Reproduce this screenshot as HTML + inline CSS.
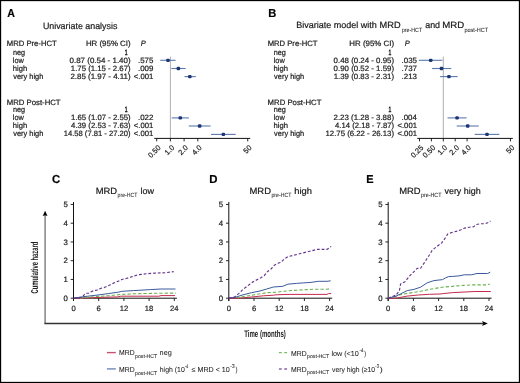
<!DOCTYPE html>
<html><head><meta charset="utf-8"><style>
html,body{margin:0;padding:0;background:#fff;overflow:hidden;}
svg{display:block;filter:blur(0.3px);font-family:"Liberation Sans", sans-serif;text-rendering:geometricPrecision;}
text{stroke:#1a1a1a;stroke-width:0.2px;}
</style></head><body>
<svg width="520" height="383" viewBox="0 0 520 383">
<rect width="520" height="383" fill="#fff"/>
<rect x="0.5" y="0.5" width="519" height="382" fill="none" stroke="#000" stroke-width="1.3"/>
<text x="7.29" y="16.50" font-size="11.5" font-weight="bold" fill="#000" textLength="7.65" lengthAdjust="spacingAndGlyphs">A</text>
<text x="268.23" y="16.50" font-size="11.5" font-weight="bold" fill="#000" textLength="8.05" lengthAdjust="spacingAndGlyphs">B</text>
<text x="52.10" y="183.20" font-size="11.5" font-weight="bold" fill="#000" textLength="8.16" lengthAdjust="spacingAndGlyphs">C</text>
<text x="209.21" y="183.00" font-size="11.5" font-weight="bold" fill="#000" textLength="8.22" lengthAdjust="spacingAndGlyphs">D</text>
<text x="366.34" y="183.00" font-size="11.5" font-weight="bold" fill="#000" textLength="7.32" lengthAdjust="spacingAndGlyphs">E</text>
<text x="42.88" y="28.90" font-size="9.0" fill="#1a1a1a" textLength="74.46" lengthAdjust="spacingAndGlyphs">Univariate analysis</text>
<text x="296.23" y="27.60" font-size="9.0" fill="#1a1a1a" textLength="80.64" lengthAdjust="spacingAndGlyphs">Bivariate model with</text>
<text x="379.61" y="27.60" font-size="9.0" fill="#1a1a1a" textLength="20.97" lengthAdjust="spacingAndGlyphs">MRD</text>
<text x="401.91" y="31.60" font-size="6.0" fill="#1a1a1a" textLength="20.24" lengthAdjust="spacingAndGlyphs" style="stroke-width:0.05px">pre-HCT</text>
<text x="425.19" y="27.60" font-size="9.0" fill="#1a1a1a" textLength="14.87" lengthAdjust="spacingAndGlyphs">and</text>
<text x="442.18" y="27.60" font-size="9.0" fill="#1a1a1a" textLength="21.93" lengthAdjust="spacingAndGlyphs">MRD</text>
<text x="464.49" y="31.60" font-size="6.0" fill="#1a1a1a" textLength="23.56" lengthAdjust="spacingAndGlyphs" style="stroke-width:0.05px">post-HCT</text>
<text x="6.84" y="46.40" font-size="7.7" fill="#1a1a1a" textLength="49.87" lengthAdjust="spacingAndGlyphs">MRD Pre-HCT</text>
<text x="6.83" y="104.50" font-size="7.7" fill="#1a1a1a" textLength="53.77" lengthAdjust="spacingAndGlyphs">MRD Post-HCT</text>
<text x="12.88" y="54.50" font-size="7.7" fill="#1a1a1a" textLength="12.17" lengthAdjust="spacingAndGlyphs">neg</text>
<text x="12.87" y="62.50" font-size="7.7" fill="#1a1a1a" textLength="11.05" lengthAdjust="spacingAndGlyphs">low</text>
<text x="12.82" y="70.60" font-size="7.7" fill="#1a1a1a" textLength="14.44" lengthAdjust="spacingAndGlyphs">high</text>
<text x="13.31" y="78.60" font-size="7.7" fill="#1a1a1a" textLength="30.04" lengthAdjust="spacingAndGlyphs">very high</text>
<text x="12.88" y="112.40" font-size="7.7" fill="#1a1a1a" textLength="12.17" lengthAdjust="spacingAndGlyphs">neg</text>
<text x="12.87" y="120.10" font-size="7.7" fill="#1a1a1a" textLength="11.05" lengthAdjust="spacingAndGlyphs">low</text>
<text x="12.82" y="127.80" font-size="7.7" fill="#1a1a1a" textLength="14.44" lengthAdjust="spacingAndGlyphs">high</text>
<text x="13.31" y="135.80" font-size="7.7" fill="#1a1a1a" textLength="30.04" lengthAdjust="spacingAndGlyphs">very high</text>
<text x="85.92" y="46.40" font-size="7.7" fill="#1a1a1a" textLength="44.73" lengthAdjust="spacingAndGlyphs">HR (95% CI)</text>
<text x="140.83" y="46.40" font-size="7.7" font-style="italic" fill="#1a1a1a" textLength="4.98" lengthAdjust="spacingAndGlyphs">P</text>
<text x="124.87" y="54.50" font-size="7.7" fill="#1a1a1a" textLength="2.81" lengthAdjust="spacingAndGlyphs" style="stroke-width:0.45px">1</text>
<text x="69.53" y="62.50" font-size="7.7" fill="#1a1a1a" textLength="61.11" lengthAdjust="spacingAndGlyphs">0.87 (0.54 - 1.40)</text>
<text x="137.94" y="62.50" font-size="7.7" fill="#1a1a1a" textLength="15.44" lengthAdjust="spacingAndGlyphs">.575</text>
<text x="70.87" y="70.60" font-size="7.7" fill="#1a1a1a" textLength="59.76" lengthAdjust="spacingAndGlyphs">1.75 (1.15 - 2.67)</text>
<text x="137.93" y="70.60" font-size="7.7" fill="#1a1a1a" textLength="15.48" lengthAdjust="spacingAndGlyphs">.009</text>
<text x="70.45" y="78.60" font-size="7.7" fill="#1a1a1a" textLength="60.19" lengthAdjust="spacingAndGlyphs">2.85 (1.97 - 4.11)</text>
<text x="133.86" y="78.60" font-size="7.7" fill="#1a1a1a" textLength="19.54" lengthAdjust="spacingAndGlyphs">&lt;.001</text>
<text x="124.87" y="112.40" font-size="7.7" fill="#1a1a1a" textLength="2.81" lengthAdjust="spacingAndGlyphs" style="stroke-width:0.45px">1</text>
<text x="71.07" y="120.10" font-size="7.7" fill="#1a1a1a" textLength="59.56" lengthAdjust="spacingAndGlyphs">1.65 (1.07 - 2.55)</text>
<text x="137.93" y="120.10" font-size="7.7" fill="#1a1a1a" textLength="15.53" lengthAdjust="spacingAndGlyphs">.022</text>
<text x="71.09" y="127.80" font-size="7.7" fill="#1a1a1a" textLength="59.53" lengthAdjust="spacingAndGlyphs">4.39 (2.53 - 7.63)</text>
<text x="133.86" y="127.80" font-size="7.7" fill="#1a1a1a" textLength="19.54" lengthAdjust="spacingAndGlyphs">&lt;.001</text>
<text x="63.68" y="135.80" font-size="7.7" fill="#1a1a1a" textLength="66.96" lengthAdjust="spacingAndGlyphs">14.58 (7.81 - 27.20)</text>
<text x="133.86" y="135.80" font-size="7.7" fill="#1a1a1a" textLength="19.54" lengthAdjust="spacingAndGlyphs">&lt;.001</text>
<text x="267.64" y="46.40" font-size="7.7" fill="#1a1a1a" textLength="49.87" lengthAdjust="spacingAndGlyphs">MRD Pre-HCT</text>
<text x="267.63" y="104.50" font-size="7.7" fill="#1a1a1a" textLength="53.77" lengthAdjust="spacingAndGlyphs">MRD Post-HCT</text>
<text x="273.68" y="54.50" font-size="7.7" fill="#1a1a1a" textLength="12.17" lengthAdjust="spacingAndGlyphs">neg</text>
<text x="273.67" y="62.50" font-size="7.7" fill="#1a1a1a" textLength="11.05" lengthAdjust="spacingAndGlyphs">low</text>
<text x="273.62" y="70.60" font-size="7.7" fill="#1a1a1a" textLength="14.44" lengthAdjust="spacingAndGlyphs">high</text>
<text x="274.11" y="78.60" font-size="7.7" fill="#1a1a1a" textLength="30.04" lengthAdjust="spacingAndGlyphs">very high</text>
<text x="273.68" y="112.40" font-size="7.7" fill="#1a1a1a" textLength="12.17" lengthAdjust="spacingAndGlyphs">neg</text>
<text x="273.67" y="120.10" font-size="7.7" fill="#1a1a1a" textLength="11.05" lengthAdjust="spacingAndGlyphs">low</text>
<text x="273.62" y="127.80" font-size="7.7" fill="#1a1a1a" textLength="14.44" lengthAdjust="spacingAndGlyphs">high</text>
<text x="274.11" y="135.80" font-size="7.7" fill="#1a1a1a" textLength="30.04" lengthAdjust="spacingAndGlyphs">very high</text>
<text x="349.32" y="46.40" font-size="7.7" fill="#1a1a1a" textLength="44.73" lengthAdjust="spacingAndGlyphs">HR (95% CI)</text>
<text x="404.83" y="46.40" font-size="7.7" font-style="italic" fill="#1a1a1a" textLength="4.98" lengthAdjust="spacingAndGlyphs">P</text>
<text x="388.47" y="54.50" font-size="7.7" fill="#1a1a1a" textLength="2.81" lengthAdjust="spacingAndGlyphs" style="stroke-width:0.45px">1</text>
<text x="333.64" y="62.50" font-size="7.7" fill="#1a1a1a" textLength="60.40" lengthAdjust="spacingAndGlyphs">0.48 (0.24 - 0.95)</text>
<text x="401.54" y="62.50" font-size="7.7" fill="#1a1a1a" textLength="15.44" lengthAdjust="spacingAndGlyphs">.035</text>
<text x="333.64" y="70.60" font-size="7.7" fill="#1a1a1a" textLength="60.40" lengthAdjust="spacingAndGlyphs">0.90 (0.52 - 1.59)</text>
<text x="401.53" y="70.60" font-size="7.7" fill="#1a1a1a" textLength="15.53" lengthAdjust="spacingAndGlyphs">.737</text>
<text x="333.66" y="78.60" font-size="7.7" fill="#1a1a1a" textLength="60.37" lengthAdjust="spacingAndGlyphs">1.39 (0.83 - 2.31)</text>
<text x="401.54" y="78.60" font-size="7.7" fill="#1a1a1a" textLength="15.44" lengthAdjust="spacingAndGlyphs">.213</text>
<text x="388.47" y="112.40" font-size="7.7" fill="#1a1a1a" textLength="2.81" lengthAdjust="spacingAndGlyphs" style="stroke-width:0.45px">1</text>
<text x="333.56" y="120.10" font-size="7.7" fill="#1a1a1a" textLength="60.48" lengthAdjust="spacingAndGlyphs">2.23 (1.28 - 3.88)</text>
<text x="401.54" y="120.10" font-size="7.7" fill="#1a1a1a" textLength="15.36" lengthAdjust="spacingAndGlyphs">.004</text>
<text x="335.10" y="127.80" font-size="7.7" fill="#1a1a1a" textLength="58.93" lengthAdjust="spacingAndGlyphs">4.14 (2.18 - 7.87)</text>
<text x="397.46" y="127.80" font-size="7.7" fill="#1a1a1a" textLength="19.54" lengthAdjust="spacingAndGlyphs">&lt;.001</text>
<text x="325.46" y="135.80" font-size="7.7" fill="#1a1a1a" textLength="68.58" lengthAdjust="spacingAndGlyphs">12.75 (6.22 - 26.13)</text>
<text x="397.46" y="135.80" font-size="7.7" fill="#1a1a1a" textLength="19.54" lengthAdjust="spacingAndGlyphs">&lt;.001</text>
<line x1="170.40" y1="56.60" x2="170.40" y2="138.40" stroke="#b0b0b0" stroke-width="1.0"/>
<line x1="154.30" y1="138.40" x2="250.20" y2="138.40" stroke="#111" stroke-width="1.0"/>
<line x1="156.70" y1="138.40" x2="156.70" y2="141.40" stroke="#111" stroke-width="0.9"/>
<text x="161.10" y="148.20" font-size="7.4" text-anchor="end" fill="#1a1a1a" transform="rotate(-45 161.10 148.20)">0.50</text>
<line x1="170.40" y1="138.40" x2="170.40" y2="141.40" stroke="#111" stroke-width="0.9"/>
<text x="174.80" y="148.20" font-size="7.4" text-anchor="end" fill="#1a1a1a" transform="rotate(-45 174.80 148.20)">1.0</text>
<line x1="184.10" y1="138.40" x2="184.10" y2="141.40" stroke="#111" stroke-width="0.9"/>
<text x="188.50" y="148.20" font-size="7.4" text-anchor="end" fill="#1a1a1a" transform="rotate(-45 188.50 148.20)">2.0</text>
<line x1="197.80" y1="138.40" x2="197.80" y2="141.40" stroke="#111" stroke-width="0.9"/>
<text x="202.20" y="148.20" font-size="7.4" text-anchor="end" fill="#1a1a1a" transform="rotate(-45 202.20 148.20)">4.0</text>
<line x1="247.72" y1="138.40" x2="247.72" y2="141.40" stroke="#111" stroke-width="0.9"/>
<text x="252.12" y="148.20" font-size="7.4" text-anchor="end" fill="#1a1a1a" transform="rotate(-45 252.12 148.20)">50</text>
<line x1="160.20" y1="60.30" x2="175.60" y2="60.30" stroke="#5c78ad" stroke-width="1.1"/>
<rect x="166.20" y="58.65" width="3.6" height="3.3" rx="1.2" fill="#1b3672"/>
<line x1="171.30" y1="68.50" x2="185.60" y2="68.50" stroke="#5c78ad" stroke-width="1.1"/>
<rect x="176.60" y="66.85" width="3.6" height="3.3" rx="1.2" fill="#1b3672"/>
<line x1="184.50" y1="76.60" x2="195.80" y2="76.60" stroke="#5c78ad" stroke-width="1.1"/>
<rect x="188.00" y="74.95" width="3.6" height="3.3" rx="1.2" fill="#1b3672"/>
<line x1="171.74" y1="117.90" x2="188.90" y2="117.90" stroke="#5c78ad" stroke-width="1.1"/>
<rect x="178.50" y="116.25" width="3.6" height="3.3" rx="1.2" fill="#1b3672"/>
<line x1="188.75" y1="126.00" x2="210.56" y2="126.00" stroke="#5c78ad" stroke-width="1.1"/>
<rect x="197.84" y="124.35" width="3.6" height="3.3" rx="1.2" fill="#1b3672"/>
<line x1="211.02" y1="134.40" x2="235.69" y2="134.40" stroke="#5c78ad" stroke-width="1.1"/>
<rect x="221.56" y="132.75" width="3.6" height="3.3" rx="1.2" fill="#1b3672"/>
<line x1="443.30" y1="56.60" x2="443.30" y2="138.40" stroke="#b0b0b0" stroke-width="1.0"/>
<line x1="417.30" y1="138.40" x2="512.80" y2="138.40" stroke="#111" stroke-width="1.0"/>
<line x1="419.50" y1="138.40" x2="419.50" y2="141.40" stroke="#111" stroke-width="0.9"/>
<text x="423.90" y="148.20" font-size="7.4" text-anchor="end" fill="#1a1a1a" transform="rotate(-45 423.90 148.20)">0.25</text>
<line x1="431.40" y1="138.40" x2="431.40" y2="141.40" stroke="#111" stroke-width="0.9"/>
<text x="435.80" y="148.20" font-size="7.4" text-anchor="end" fill="#1a1a1a" transform="rotate(-45 435.80 148.20)">0.50</text>
<line x1="443.30" y1="138.40" x2="443.30" y2="141.40" stroke="#111" stroke-width="0.9"/>
<text x="447.70" y="148.20" font-size="7.4" text-anchor="end" fill="#1a1a1a" transform="rotate(-45 447.70 148.20)">1.0</text>
<line x1="455.20" y1="138.40" x2="455.20" y2="141.40" stroke="#111" stroke-width="0.9"/>
<text x="459.60" y="148.20" font-size="7.4" text-anchor="end" fill="#1a1a1a" transform="rotate(-45 459.60 148.20)">2.0</text>
<line x1="467.10" y1="138.40" x2="467.10" y2="141.40" stroke="#111" stroke-width="0.9"/>
<text x="471.50" y="148.20" font-size="7.4" text-anchor="end" fill="#1a1a1a" transform="rotate(-45 471.50 148.20)">4.0</text>
<line x1="510.46" y1="138.40" x2="510.46" y2="141.40" stroke="#111" stroke-width="0.9"/>
<text x="514.86" y="148.20" font-size="7.4" text-anchor="end" fill="#1a1a1a" transform="rotate(-45 514.86 148.20)">50</text>
<line x1="418.80" y1="60.30" x2="442.42" y2="60.30" stroke="#5c78ad" stroke-width="1.1"/>
<rect x="428.90" y="58.65" width="3.6" height="3.3" rx="1.2" fill="#1b3672"/>
<line x1="432.07" y1="68.50" x2="451.26" y2="68.50" stroke="#5c78ad" stroke-width="1.1"/>
<rect x="439.69" y="66.85" width="3.6" height="3.3" rx="1.2" fill="#1b3672"/>
<line x1="440.10" y1="76.60" x2="457.67" y2="76.60" stroke="#5c78ad" stroke-width="1.1"/>
<rect x="447.15" y="74.95" width="3.6" height="3.3" rx="1.2" fill="#1b3672"/>
<line x1="447.54" y1="117.90" x2="466.58" y2="117.90" stroke="#5c78ad" stroke-width="1.1"/>
<rect x="455.27" y="116.25" width="3.6" height="3.3" rx="1.2" fill="#1b3672"/>
<line x1="456.68" y1="126.00" x2="478.72" y2="126.00" stroke="#5c78ad" stroke-width="1.1"/>
<rect x="465.89" y="124.35" width="3.6" height="3.3" rx="1.2" fill="#1b3672"/>
<line x1="474.68" y1="134.40" x2="499.32" y2="134.40" stroke="#5c78ad" stroke-width="1.1"/>
<rect x="485.20" y="132.75" width="3.6" height="3.3" rx="1.2" fill="#1b3672"/>
<line x1="73.50" y1="202.05" x2="73.50" y2="301.00" stroke="#111" stroke-width="1.0"/>
<line x1="70.70" y1="298.20" x2="73.50" y2="298.20" stroke="#111" stroke-width="0.9"/>
<text x="67.80" y="300.90" font-size="7.8" text-anchor="end" fill="#1a1a1a">0</text>
<line x1="70.70" y1="279.45" x2="73.50" y2="279.45" stroke="#111" stroke-width="0.9"/>
<text x="67.80" y="282.15" font-size="7.8" text-anchor="end" fill="#1a1a1a">1</text>
<line x1="70.70" y1="260.70" x2="73.50" y2="260.70" stroke="#111" stroke-width="0.9"/>
<text x="67.80" y="263.40" font-size="7.8" text-anchor="end" fill="#1a1a1a">2</text>
<line x1="70.70" y1="241.95" x2="73.50" y2="241.95" stroke="#111" stroke-width="0.9"/>
<text x="67.80" y="244.65" font-size="7.8" text-anchor="end" fill="#1a1a1a">3</text>
<line x1="70.70" y1="223.20" x2="73.50" y2="223.20" stroke="#111" stroke-width="0.9"/>
<text x="67.80" y="225.90" font-size="7.8" text-anchor="end" fill="#1a1a1a">4</text>
<line x1="70.70" y1="204.45" x2="73.50" y2="204.45" stroke="#111" stroke-width="0.9"/>
<text x="67.80" y="207.15" font-size="7.8" text-anchor="end" fill="#1a1a1a">5</text>
<line x1="73.50" y1="298.20" x2="176.90" y2="298.20" stroke="#111" stroke-width="1.0"/>
<line x1="73.50" y1="298.20" x2="73.50" y2="301.00" stroke="#111" stroke-width="0.9"/>
<text x="73.50" y="311.10" font-size="7.6" text-anchor="middle" fill="#1a1a1a">0</text>
<line x1="98.70" y1="298.20" x2="98.70" y2="301.00" stroke="#111" stroke-width="0.9"/>
<text x="98.70" y="311.10" font-size="7.6" text-anchor="middle" fill="#1a1a1a">6</text>
<line x1="123.90" y1="298.20" x2="123.90" y2="301.00" stroke="#111" stroke-width="0.9"/>
<text x="123.90" y="311.10" font-size="7.6" text-anchor="middle" fill="#1a1a1a">12</text>
<line x1="149.10" y1="298.20" x2="149.10" y2="301.00" stroke="#111" stroke-width="0.9"/>
<text x="149.10" y="311.10" font-size="7.6" text-anchor="middle" fill="#1a1a1a">18</text>
<line x1="174.30" y1="298.20" x2="174.30" y2="301.00" stroke="#111" stroke-width="0.9"/>
<text x="174.30" y="311.10" font-size="7.6" text-anchor="middle" fill="#1a1a1a">24</text>
<text x="95.70" y="193.50" font-size="9.0" fill="#1a1a1a" textLength="21.40" lengthAdjust="spacingAndGlyphs">MRD</text>
<text x="117.61" y="196.80" font-size="6.0" fill="#1a1a1a" textLength="19.94" lengthAdjust="spacingAndGlyphs" style="stroke-width:0.05px">pre-HCT</text>
<text x="140.46" y="193.50" font-size="9.0" fill="#1a1a1a" textLength="13.55" lengthAdjust="spacingAndGlyphs">low</text>
<polyline points="73.5,298.2 87.6,297.9 99.0,297.4 117.7,296.9 120.8,296.2 158.9,296.2 161.0,295.6 175.0,295.6" fill="none" stroke="#c42a4c" stroke-width="1.0" stroke-linejoin="round"/>
<polyline points="80.0,298.2 85.5,297.4 98.0,296.4 108.3,295.8 115.6,295.0 121.8,294.4 133.5,293.8 154.6,293.3 175.8,293.1" fill="none" stroke="#6cb24e" stroke-width="1.1" stroke-dasharray="3.3 2.0" stroke-linejoin="round"/>
<polyline points="73.5,298.2 82.4,296.8 87.6,296.2 98.0,295.0 108.3,293.6 118.7,292.1 121.8,291.3 133.5,290.6 150.4,289.6 161.0,289.0 175.5,289.0" fill="none" stroke="#3a5a9c" stroke-width="1.0" stroke-linejoin="round"/>
<polyline points="74.1,298.2 81.9,297.4 83.9,295.1 85.5,293.2 88.6,293.2 90.7,292.0 93.8,290.6 96.9,290.1 99.0,289.0 102.1,288.0 104.2,287.6 107.3,286.2 110.4,284.7 113.5,283.1 117.7,281.4 121.8,279.5 126.0,278.5 131.3,276.9 137.7,274.8 146.2,273.8 154.6,273.1 165.2,272.7 173.7,271.6" fill="none" stroke="#65358c" stroke-width="1.15" stroke-dasharray="2.8 1.9" stroke-linejoin="round"/>
<line x1="228.80" y1="202.05" x2="228.80" y2="301.00" stroke="#111" stroke-width="1.0"/>
<line x1="226.00" y1="298.20" x2="228.80" y2="298.20" stroke="#111" stroke-width="0.9"/>
<text x="223.10" y="300.90" font-size="7.8" text-anchor="end" fill="#1a1a1a">0</text>
<line x1="226.00" y1="279.45" x2="228.80" y2="279.45" stroke="#111" stroke-width="0.9"/>
<text x="223.10" y="282.15" font-size="7.8" text-anchor="end" fill="#1a1a1a">1</text>
<line x1="226.00" y1="260.70" x2="228.80" y2="260.70" stroke="#111" stroke-width="0.9"/>
<text x="223.10" y="263.40" font-size="7.8" text-anchor="end" fill="#1a1a1a">2</text>
<line x1="226.00" y1="241.95" x2="228.80" y2="241.95" stroke="#111" stroke-width="0.9"/>
<text x="223.10" y="244.65" font-size="7.8" text-anchor="end" fill="#1a1a1a">3</text>
<line x1="226.00" y1="223.20" x2="228.80" y2="223.20" stroke="#111" stroke-width="0.9"/>
<text x="223.10" y="225.90" font-size="7.8" text-anchor="end" fill="#1a1a1a">4</text>
<line x1="226.00" y1="204.45" x2="228.80" y2="204.45" stroke="#111" stroke-width="0.9"/>
<text x="223.10" y="207.15" font-size="7.8" text-anchor="end" fill="#1a1a1a">5</text>
<line x1="228.80" y1="298.20" x2="332.20" y2="298.20" stroke="#111" stroke-width="1.0"/>
<line x1="228.80" y1="298.20" x2="228.80" y2="301.00" stroke="#111" stroke-width="0.9"/>
<text x="228.80" y="311.10" font-size="7.6" text-anchor="middle" fill="#1a1a1a">0</text>
<line x1="254.00" y1="298.20" x2="254.00" y2="301.00" stroke="#111" stroke-width="0.9"/>
<text x="254.00" y="311.10" font-size="7.6" text-anchor="middle" fill="#1a1a1a">6</text>
<line x1="279.20" y1="298.20" x2="279.20" y2="301.00" stroke="#111" stroke-width="0.9"/>
<text x="279.20" y="311.10" font-size="7.6" text-anchor="middle" fill="#1a1a1a">12</text>
<line x1="304.40" y1="298.20" x2="304.40" y2="301.00" stroke="#111" stroke-width="0.9"/>
<text x="304.40" y="311.10" font-size="7.6" text-anchor="middle" fill="#1a1a1a">18</text>
<line x1="329.60" y1="298.20" x2="329.60" y2="301.00" stroke="#111" stroke-width="0.9"/>
<text x="329.60" y="311.10" font-size="7.6" text-anchor="middle" fill="#1a1a1a">24</text>
<text x="249.49" y="193.50" font-size="9.0" fill="#1a1a1a" textLength="21.50" lengthAdjust="spacingAndGlyphs">MRD</text>
<text x="271.41" y="196.80" font-size="6.0" fill="#1a1a1a" textLength="19.94" lengthAdjust="spacingAndGlyphs" style="stroke-width:0.05px">pre-HCT</text>
<text x="294.20" y="193.50" font-size="9.0" fill="#1a1a1a" textLength="17.67" lengthAdjust="spacingAndGlyphs">high</text>
<polyline points="228.8,298.2 239.6,298.2 251.5,297.0 263.4,295.8 273.5,295.2 276.0,294.8 287.0,294.4 326.9,294.4 328.6,293.6 331.2,293.6" fill="none" stroke="#c42a4c" stroke-width="1.0" stroke-linejoin="round"/>
<polyline points="236.2,297.8 246.4,296.1 256.6,294.4 266.7,292.7 276.0,292.2 286.2,291.0 296.4,290.2 313.4,289.3 326.9,289.3 330.7,288.5" fill="none" stroke="#6cb24e" stroke-width="1.1" stroke-dasharray="3.3 2.0" stroke-linejoin="round"/>
<polyline points="228.8,298.2 236.2,297.0 243.0,294.8 251.5,292.7 260.0,291.0 266.7,289.0 273.5,287.0 282.8,286.3 287.9,284.2 296.4,283.4 303.2,282.9 310.0,282.5 318.4,281.3 326.9,281.3 330.7,280.8" fill="none" stroke="#3a5a9c" stroke-width="1.0" stroke-linejoin="round"/>
<polyline points="228.8,298.2 234.5,297.0 238.7,293.6 243.0,289.3 246.4,286.8 249.8,284.2 253.2,281.7 257.4,279.5 260.8,277.8 264.2,275.7 267.6,271.5 271.0,269.0 274.4,265.2 278.6,263.0 281.1,262.2 284.5,258.8 287.9,256.7 293.0,255.4 299.8,253.7 306.6,252.0 312.5,250.6 316.7,249.4 326.9,249.4 331.2,246.5" fill="none" stroke="#65358c" stroke-width="1.15" stroke-dasharray="2.8 1.9" stroke-linejoin="round"/>
<line x1="388.20" y1="202.05" x2="388.20" y2="301.00" stroke="#111" stroke-width="1.0"/>
<line x1="385.40" y1="298.20" x2="388.20" y2="298.20" stroke="#111" stroke-width="0.9"/>
<text x="382.50" y="300.90" font-size="7.8" text-anchor="end" fill="#1a1a1a">0</text>
<line x1="385.40" y1="279.45" x2="388.20" y2="279.45" stroke="#111" stroke-width="0.9"/>
<text x="382.50" y="282.15" font-size="7.8" text-anchor="end" fill="#1a1a1a">1</text>
<line x1="385.40" y1="260.70" x2="388.20" y2="260.70" stroke="#111" stroke-width="0.9"/>
<text x="382.50" y="263.40" font-size="7.8" text-anchor="end" fill="#1a1a1a">2</text>
<line x1="385.40" y1="241.95" x2="388.20" y2="241.95" stroke="#111" stroke-width="0.9"/>
<text x="382.50" y="244.65" font-size="7.8" text-anchor="end" fill="#1a1a1a">3</text>
<line x1="385.40" y1="223.20" x2="388.20" y2="223.20" stroke="#111" stroke-width="0.9"/>
<text x="382.50" y="225.90" font-size="7.8" text-anchor="end" fill="#1a1a1a">4</text>
<line x1="385.40" y1="204.45" x2="388.20" y2="204.45" stroke="#111" stroke-width="0.9"/>
<text x="382.50" y="207.15" font-size="7.8" text-anchor="end" fill="#1a1a1a">5</text>
<line x1="388.20" y1="298.20" x2="491.60" y2="298.20" stroke="#111" stroke-width="1.0"/>
<line x1="388.20" y1="298.20" x2="388.20" y2="301.00" stroke="#111" stroke-width="0.9"/>
<text x="388.20" y="311.10" font-size="7.6" text-anchor="middle" fill="#1a1a1a">0</text>
<line x1="413.40" y1="298.20" x2="413.40" y2="301.00" stroke="#111" stroke-width="0.9"/>
<text x="413.40" y="311.10" font-size="7.6" text-anchor="middle" fill="#1a1a1a">6</text>
<line x1="438.60" y1="298.20" x2="438.60" y2="301.00" stroke="#111" stroke-width="0.9"/>
<text x="438.60" y="311.10" font-size="7.6" text-anchor="middle" fill="#1a1a1a">12</text>
<line x1="463.80" y1="298.20" x2="463.80" y2="301.00" stroke="#111" stroke-width="0.9"/>
<text x="463.80" y="311.10" font-size="7.6" text-anchor="middle" fill="#1a1a1a">18</text>
<line x1="489.00" y1="298.20" x2="489.00" y2="301.00" stroke="#111" stroke-width="0.9"/>
<text x="489.00" y="311.10" font-size="7.6" text-anchor="middle" fill="#1a1a1a">24</text>
<text x="399.20" y="193.50" font-size="9.0" fill="#1a1a1a" textLength="21.40" lengthAdjust="spacingAndGlyphs">MRD</text>
<text x="420.90" y="196.80" font-size="6.0" fill="#1a1a1a" textLength="20.65" lengthAdjust="spacingAndGlyphs" style="stroke-width:0.05px">pre-HCT</text>
<text x="444.51" y="193.50" font-size="9.0" fill="#1a1a1a" textLength="36.15" lengthAdjust="spacingAndGlyphs">very high</text>
<polyline points="388.2,298.2 396.1,298.2 407.2,296.1 418.3,295.0 429.4,294.3 440.0,294.0 443.2,293.6 452.7,292.6 474.9,291.5 490.8,291.5" fill="none" stroke="#c42a4c" stroke-width="1.0" stroke-linejoin="round"/>
<polyline points="393.9,297.2 400.6,294.6 407.2,293.4 418.3,291.7 429.4,289.4 438.3,287.9 444.2,287.0 450.6,286.5 456.9,285.9 463.3,285.4 471.7,284.9 486.6,284.9 489.7,284.1" fill="none" stroke="#6cb24e" stroke-width="1.1" stroke-dasharray="3.3 2.0" stroke-linejoin="round"/>
<polyline points="388.2,298.2 396.1,296.1 400.6,293.9 407.2,290.6 413.9,289.4 420.6,287.2 427.2,282.8 433.9,280.6 442.6,279.6 445.3,278.0 448.5,276.6 452.7,276.4 459.0,275.9 464.3,274.8 471.7,274.8 477.0,273.5 487.6,273.5 490.3,272.2" fill="none" stroke="#3a5a9c" stroke-width="1.0" stroke-linejoin="round"/>
<polyline points="388.2,298.2 396.1,295.0 399.4,290.6 400.6,283.9 405.0,281.7 409.4,276.1 412.8,272.8 417.2,268.3 420.6,268.3 425.0,261.7 429.4,255.0 432.3,250.2 436.9,246.5 441.5,243.1 443.8,240.2 445.6,237.3 447.9,233.8 453.1,232.1 457.7,231.0 461.1,229.8 464.6,228.1 469.2,227.2 473.8,226.7 476.1,224.6 480.7,223.7 485.4,223.7 488.8,222.3 490.4,221.0" fill="none" stroke="#65358c" stroke-width="1.15" stroke-dasharray="2.8 1.9" stroke-linejoin="round"/>
<line x1="45.10" y1="215.00" x2="45.10" y2="323.40" stroke="#7a7a7a" stroke-width="1.4"/>
<path d="M45.1,210.8 L47.5,215.9 L45.1,215.2 L42.7,215.9 Z" fill="#000"/>
<line x1="44.40" y1="323.50" x2="483.50" y2="323.50" stroke="#333" stroke-width="1.3"/>
<path d="M487.8,323.5 L482.0,321.1 L483.3,323.5 L482.0,325.9 Z" fill="#000"/>
<text x="244.19" y="337.30" font-size="9.6" font-weight="bold" fill="#222" textLength="41.64" lengthAdjust="spacingAndGlyphs" style="stroke-width:0">Time (months)</text>
<g transform="translate(37.7 293.5) rotate(-90)">
<text x="0.02" y="0.00" font-size="10.0" font-weight="bold" fill="#222" textLength="51.82" lengthAdjust="spacingAndGlyphs" style="stroke-width:0">Cumulative hazard</text>
</g>
<line x1="106.90" y1="352.60" x2="115.80" y2="352.60" stroke="#c8506e" stroke-width="1.4"/>
<line x1="106.90" y1="368.90" x2="115.80" y2="368.90" stroke="#7088b8" stroke-width="1.4"/>
<line x1="278.90" y1="352.60" x2="287.20" y2="352.60" stroke="#7dbd6a" stroke-width="1.4" stroke-dasharray="2.9 2.4"/>
<line x1="278.90" y1="369.00" x2="287.20" y2="369.00" stroke="#8a68ac" stroke-width="1.4" stroke-dasharray="2.9 2.4"/>
<text x="119.10" y="355.40" font-size="7.2" fill="#1a1a1a" textLength="15.57" lengthAdjust="spacingAndGlyphs" style="stroke-width:0.05px">MRD</text>
<text x="135.11" y="358.00" font-size="5.5" fill="#1a1a1a" textLength="22.13" lengthAdjust="spacingAndGlyphs" style="stroke-width:0.05px">post-HCT</text>
<text x="119.10" y="371.90" font-size="7.2" fill="#1a1a1a" textLength="15.57" lengthAdjust="spacingAndGlyphs" style="stroke-width:0.05px">MRD</text>
<text x="135.11" y="374.50" font-size="5.5" fill="#1a1a1a" textLength="22.13" lengthAdjust="spacingAndGlyphs" style="stroke-width:0.05px">post-HCT</text>
<text x="291.00" y="355.50" font-size="7.2" fill="#1a1a1a" textLength="15.57" lengthAdjust="spacingAndGlyphs" style="stroke-width:0.05px">MRD</text>
<text x="307.11" y="358.10" font-size="5.5" fill="#1a1a1a" textLength="22.13" lengthAdjust="spacingAndGlyphs" style="stroke-width:0.05px">post-HCT</text>
<text x="291.00" y="371.60" font-size="7.2" fill="#1a1a1a" textLength="15.57" lengthAdjust="spacingAndGlyphs" style="stroke-width:0.05px">MRD</text>
<text x="307.11" y="374.20" font-size="5.5" fill="#1a1a1a" textLength="22.13" lengthAdjust="spacingAndGlyphs" style="stroke-width:0.05px">post-HCT</text>
<text x="159.58" y="355.40" font-size="7.2" fill="#1a1a1a" textLength="12.17" lengthAdjust="spacingAndGlyphs" style="stroke-width:0.05px">neg</text>
<text x="159.77" y="371.90" font-size="7.2" fill="#1a1a1a" textLength="25.02" lengthAdjust="spacingAndGlyphs" style="stroke-width:0.05px">high (10</text>
<text x="185.09" y="367.80" font-size="5.6" fill="#1a1a1a" textLength="3.16" lengthAdjust="spacingAndGlyphs" style="stroke-width:0.05px">-4</text>
<text x="191.54" y="371.90" font-size="7.2" fill="#1a1a1a" textLength="38.27" lengthAdjust="spacingAndGlyphs" style="stroke-width:0.05px">≤ MRD &lt; 10</text>
<text x="230.34" y="367.80" font-size="5.6" fill="#1a1a1a" textLength="4.20" lengthAdjust="spacingAndGlyphs" style="stroke-width:0.05px">-3</text>
<text x="235.62" y="371.90" font-size="7.2" fill="#1a1a1a" textLength="2.01" lengthAdjust="spacingAndGlyphs" style="stroke-width:0.05px">)</text>
<text x="331.48" y="355.60" font-size="7.2" fill="#1a1a1a" textLength="27.34" lengthAdjust="spacingAndGlyphs" style="stroke-width:0.05px">low (&lt;10</text>
<text x="359.46" y="351.60" font-size="5.6" fill="#1a1a1a" textLength="3.82" lengthAdjust="spacingAndGlyphs" style="stroke-width:0.05px">-4</text>
<text x="364.22" y="355.60" font-size="7.2" fill="#1a1a1a" textLength="1.89" lengthAdjust="spacingAndGlyphs" style="stroke-width:0.05px">)</text>
<text x="332.12" y="371.60" font-size="7.2" fill="#1a1a1a" textLength="42.87" lengthAdjust="spacingAndGlyphs" style="stroke-width:0.05px">very high (≥10</text>
<text x="375.37" y="367.60" font-size="5.6" fill="#1a1a1a" textLength="3.53" lengthAdjust="spacingAndGlyphs" style="stroke-width:0.05px">-3</text>
<text x="379.80" y="371.60" font-size="7.2" fill="#1a1a1a" textLength="3.02" lengthAdjust="spacingAndGlyphs" style="stroke-width:0.05px">)</text>
</svg>
</body></html>
